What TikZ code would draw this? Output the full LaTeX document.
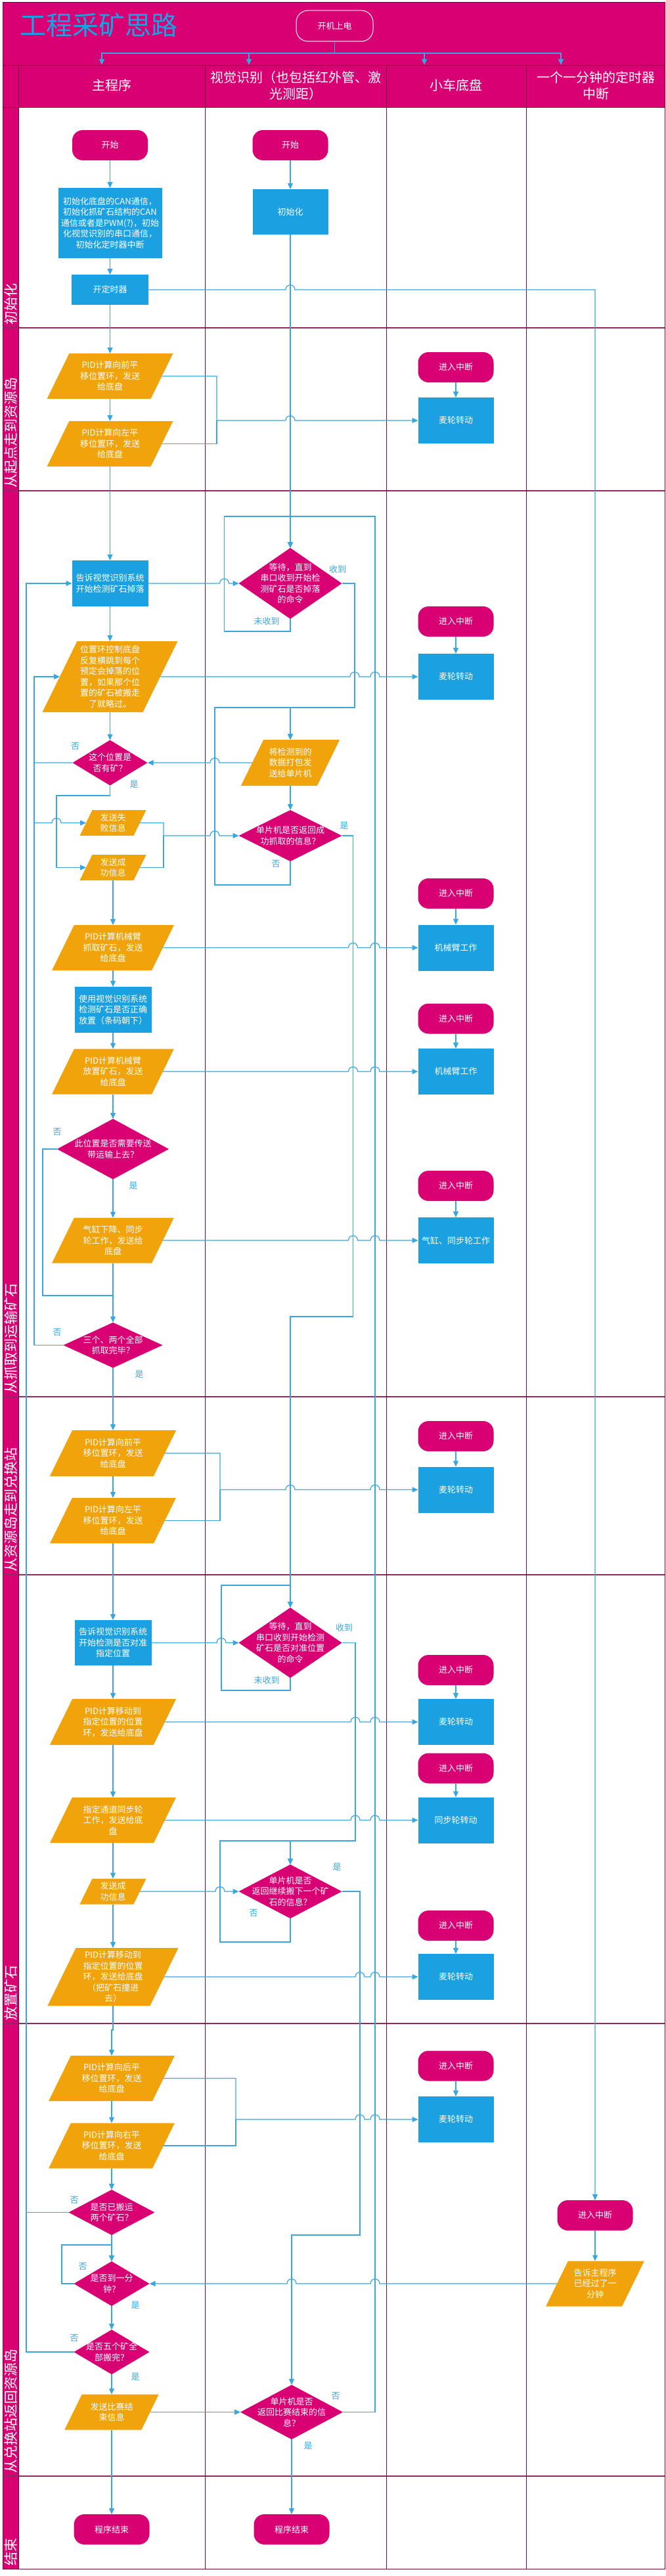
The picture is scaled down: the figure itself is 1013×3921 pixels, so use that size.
\documentclass[tikz,border=0pt]{standalone}
\usepackage{fontspec}
\setmainfont{Noto Sans CJK SC}
\usetikzlibrary{arrows.meta}
\definecolor{mag}{HTML}{D80073}
\definecolor{cy}{HTML}{1BA1E2}
\definecolor{org}{HTML}{F0A30A}
\definecolor{ln}{HTML}{3AA6E0}
\definecolor{gridc}{HTML}{6E0A41}
\definecolor{bandc}{HTML}{8E2A60}
\newcommand\hopr[2]{-- ({#1-7},#2) .. controls ({#1-7},{#2-9.5}) and ({#1+7},{#2-9.5}) .. ({#1+7},#2)}
\newcommand\hopl[2]{-- ({#1+7},#2) .. controls ({#1+7},{#2-9.5}) and ({#1-7},{#2-9.5}) .. ({#1-7},#2)}
\newcommand\mkpara[6]{%
  \fill[org] ({#2-#4/2+0.245*#5},{#3-#5/2}) -- ({#2+#4/2+0.245*#5},{#3-#5/2}) -- ({#2+#4/2-0.245*#5},{#3+#5/2}) -- ({#2-#4/2-0.245*#5},{#3+#5/2}) -- cycle;
  \node[shp,minimum width=#4pt,minimum height=#5pt] (#1) at (#2,#3) {#6};}
\newcommand\mkdia[6]{%
  \fill[mag] ({#2-#4/2},#3) -- (#2,{#3-#5/2}) -- ({#2+#4/2},#3) -- (#2,{#3+#5/2}) -- cycle;
  \node[shp,minimum width=#4pt,minimum height=#5pt] (#1) at (#2,#3) {#6};}
\newcommand\mkproc[6]{\node[shp,procbox,minimum width=#4pt,minimum height=#5pt] (#1) at (#2,#3) {#6};}
\newcommand\mkterm[6]{\node[shp,termbox,minimum width=#4pt,minimum height=#5pt] (#1) at (#2,#3) {#6};}
\begin{document}
\begin{tikzpicture}[x=1pt,y=-1pt,
  shp/.style={inner sep=0pt,outer sep=0pt,text=white,align=center,font=\fontsize{13}{16.5}\selectfont},
  procbox/.style={fill=cy},
  termbox/.style={fill=mag,rounded corners=16pt},
  conn/.style={draw=ln,line width=1.2pt},
  arr/.style={conn,-{Triangle[length=9pt,width=8pt]}},
  yn/.style={text=ln,font=\fontsize{13}{15}\selectfont,inner sep=0pt},
  hdr/.style={text=white,align=center,font=\fontsize{20}{25}\selectfont},
  lanelbl/.style={text=white,rotate=90,anchor=west,font=\fontsize{21}{21}\selectfont,inner sep=0pt},
  gridline/.style={draw=gridc,line width=1pt},
  bandline/.style={draw=bandc,line width=1.5pt}]
\useasboundingbox (0,0) rectangle (1013,3921);
\fill[white] (0,0) rectangle (1013,3921);
% frame
\fill[mag] (4.5,4) rectangle (1012,163);
\fill[mag] (4.5,163) rectangle (28.5,3910);
\foreach \yy in {499,747,2126,2397,3080,3769} {\draw[bandline] (4.5,\yy) -- (1012,\yy);}
\draw[gridline] (4.5,99) -- (1012,99);
\draw[gridline] (4.5,163) -- (1012,163);
\foreach \xx in {28.5,312,588,801} {\draw[gridline] (\xx,99) -- (\xx,3910);}
\draw[gridline] (4.5,4) rectangle (1012,3910);
% title and header
\node[anchor=west,text=cy,font=\fontsize{40}{40}\selectfont,inner sep=0pt] (title) at (30,38.5) {工程采矿思路};
\node[shp,termbox,draw=white,line width=1pt,rounded corners=18pt,minimum width=117pt,minimum height=47pt] (power) at (509.5,39.5) {开机上电};
\node[hdr] (hd1) at (170,130) {主程序};
\node[hdr] (hd2) at (450,130.5) {视觉识别（也包括红外管、激\\光测距）};
\node[hdr] (hd3) at (694,130) {小车底盘};
\node[hdr] (hd4) at (907,130.5) {一个一分钟的定时器\\中断};
\coordinate (fan) at (509.5,81);
\coordinate (h1) at (155,99);
\coordinate (h2) at (379,99);
\coordinate (h3) at (646,99);
\coordinate (h4) at (854,99);
\draw[conn] (power.south) -- (fan);
\draw[arr] (fan) -| (h1);
\draw[arr] (fan) -| (h2);
\draw[arr] (fan) -| (h3);
\draw[arr] (fan) -| (h4);
% lane labels
\node[lanelbl] (b1) at (16.5,495) {初始化};
\node[lanelbl] (b2) at (16.5,743) {从起点走到资源岛};
\node[lanelbl] (b3) at (16.5,2122) {从抓取到运输矿石};
\node[lanelbl] (b4) at (16.5,2393) {从资源岛走到兑换站};
\node[lanelbl] (b5) at (16.5,3076) {放置矿石};
\node[lanelbl] (b6) at (16.5,3765) {从兑换站返回资源岛};
\node[lanelbl] (b7) at (16.5,3906) {结束};
% main program
\mkterm{mstart}{167.5}{221}{115}{46}{开始}
\mkproc{minit}{167.5}{339.5}{158}{107}{初始化底盘的CAN通信，\\初始化抓矿石结构的CAN\\通信或者是PWM(?)，初始\\化视觉识别的串口通信，\\初始化定时器中断}
\mkproc{mtimer}{167.5}{441}{117}{46}{开定时器}
\mkpara{p1}{167.5}{572.5}{158}{69}{PID计算向前平\\移位置环，发送\\给底盘}
\mkpara{p2}{167.5}{675.5}{158}{69}{PID计算向左平\\移位置环，发送\\给底盘}
\mkproc{tell1}{167.5}{888}{116}{70}{告诉视觉识别系统\\开始检测矿石掉落}
\mkpara{pl}{167.5}{1030}{153}{108}{位置环控制底盘\\反复横跳到每个\\预定会掉落的位\\置，如果那个位\\置的矿石被搬走\\了就略过。}
\mkdia{d1}{167.5}{1161}{114}{69}{这个位置是\\否有矿？}
\mkpara{fail}{172}{1252.5}{82}{39}{发送失\\败信息}
\mkpara{succ}{172}{1320.5}{82}{39}{发送成\\功信息}
\mkpara{arm1}{172}{1442.5}{152}{69}{PID计算机械臂\\抓取矿石，发送\\给底盘}
\mkproc{check}{172}{1537}{117}{70}{使用视觉识别系统\\检测矿石是否正确\\放置（条码朝下）}
\mkpara{arm2}{172}{1631}{152}{69}{PID计算机械臂\\放置矿石，发送\\给底盘}
\mkdia{d2}{172}{1749}{170}{92}{此位置是否需要传送\\带运输上去？}
\mkpara{cyl}{172}{1888}{152}{69}{气缸下降、同步\\轮工作，发送给\\底盘}
\mkdia{d3}{172}{2047.5}{151}{69}{三个、两个全部\\抓取完毕？}
\mkpara{p3}{172}{2212}{158}{70}{PID计算向前平\\移位置环，发送\\给底盘}
\mkpara{p4}{172}{2314.5}{158}{69}{PID计算向左平\\移位置环，发送\\给底盘}
\mkproc{tell2}{172}{2500.5}{117}{69}{告诉视觉识别系统\\开始检测是否对准\\指定位置}
\mkpara{mv1}{172}{2621}{158}{70}{PID计算移动到\\指定位置的位置\\环，发送给底盘}
\mkpara{sync}{172}{2770.5}{158}{69}{指定通道同步轮\\工作，发送给底\\盘}
\mkpara{succ2}{172}{2879}{82}{39}{发送成\\功信息}
\mkpara{mv2}{172}{3009}{156}{88}{PID计算移动到\\指定位置的位置\\环，发送给底盘\\（把矿石撞进\\去）}
\mkpara{p5}{170}{3163.5}{158}{69}{PID计算向后平\\移位置环，发送\\给底盘}
\mkpara{p6}{170}{3266}{158}{69}{PID计算向右平\\移位置环，发送\\给底盘}
\mkdia{d4}{170}{3367.5}{131}{69}{是否已搬运\\两个矿石？}
\mkdia{d6}{170}{3476}{115}{68}{是否到一分\\钟？}
\mkdia{d5}{170}{3580}{115}{68}{是否五个矿全\\部搬完？}
\mkpara{endmsg}{170}{3671.5}{117}{54}{发送比赛结\\束信息}
\mkterm{mend}{170}{3850}{115}{46}{程序结束}
% vision
\mkterm{vstart}{442}{221}{115}{46}{开始}
\mkproc{vinit}{442}{322.5}{115}{69}{初始化}
\mkdia{w1}{442}{888}{157}{108}{等待，直到\\串口收到开始检\\测矿石是否掉落\\的命令}
\mkpara{pack}{442}{1161}{116}{70}{将检测到的\\数据打包发\\送给单片机}
\mkdia{m1}{442}{1272}{157}{78}{单片机是否返回成\\功抓取的信息？}
\mkdia{w2}{442}{2500.5}{157}{107}{等待，直到\\串口收到开始检测\\矿石是否对准位置\\的命令}
\mkdia{m2}{442}{2879}{157}{82}{单片机是否\\返回继续搬下一个矿\\石的信息？}
\mkdia{wend}{444}{3671.5}{156}{83}{单片机是否\\返回比赛结束的信\\息？}
\mkterm{vend}{444}{3850}{115}{46}{程序结束}
% chassis
\foreach \n/\yi/\yb/\lab in {1/559/640/麦轮转动,2/946/1030/麦轮转动,3/1360/1442.5/机械臂工作,4/1550.5/1631/机械臂工作,5/1805/1888/气缸、同步轮工作,6/2186/2267.5/麦轮转动,7/2542/2621/麦轮转动,8/2691.5/2770.5/同步轮转动,9/2931/3009/麦轮转动,10/3144.5/3226/麦轮转动}{
  \mkterm{int\n}{694}{\yi}{115}{46}{进入中断}
  \mkproc{cb\n}{694}{\yb}{115}{70}{\lab}
  \draw[arr] (int\n.south) -- (cb\n.north);
}
% timer
\mkterm{tint}{906}{3372}{115}{46}{进入中断}
\mkpara{tpara}{906}{3476}{116}{69}{告诉主程序\\已经过了一\\分钟}
% connectors
\draw[arr] (mstart.south) -- (minit.north);
\draw[arr] (minit.south) -- (mtimer.north);
\draw[arr] (mtimer.south) -- (p1.north);
\draw[arr] (mtimer.east) \hopr{442}{441} -- (906,441) -- (tint.north);
\draw[arr] (tint.south) -- (tpara.north);
\draw[arr] (vstart.south) -- (vinit.north);
\draw[arr] (vinit.south) -- (w1.north);
\draw[arr] (p1.south) -- (p2.north);
\draw[arr] (p1.east) -- (330,572.5) -- (330,640) \hopr{442}{640} -- (cb1.west);
\draw[conn] (p2.east) -- (330,675.5) -- (330,640);
\draw[arr] (p2.south) -- (tell1.north);
\draw[arr] (tell1.east) \hopr{341.5}{888} -- (w1.west);
\draw[arr] (w1.south) -- (442,961) -- (341.5,961) -- (341.5,786) -- (442,786) -- (w1.north);
\draw[arr] (wend.east) -- (571,3671.5) -- (571,786) -- (442,786) -- (w1.north);
\draw[arr] (w1.east) -- (540,888) -- (540,1077) -- (442,1077) -- (pack.north);
\draw[arr] (m1.south) -- (442,1347) -- (327,1347) -- (327,1077) -- (442,1077) -- (pack.north);
\draw[arr] (pack.south) -- (m1.north);
\draw[arr] (pack.west) \hopl{327}{1161} -- (d1.east);
\draw[arr] (tell1.south) -- (pl.north);
\draw[arr] (pl.east) \hopr{540}{1030} \hopr{571}{1030} -- (cb2.west);
\draw[arr] (pl.south) -- (d1.north);
\draw[arr] (d1.west) -- (52,1161) -- (52,1252.5) \hopr{86}{1252.5} -- (fail.west);
\draw[arr] (d1.south) -- (167.5,1211) -- (86,1211) -- (86,1320.5) -- (succ.west);
\draw[arr] (fail.east) -- (249,1252.5) -- (249,1272) \hopr{327}{1272} -- (m1.west);
\draw[conn] (succ.east) -- (249,1320.5) -- (249,1272);
\draw[arr] (m1.east) -- (537.5,1272) -- (537.5,2004) -- (442,2004) -- (w2.north);
\draw[arr] (succ.south) -- (arm1.north);
\draw[arr] (arm1.east) \hopr{537.5}{1442.5} \hopr{571}{1442.5} -- (cb3.west);
\draw[arr] (arm1.south) -- (check.north);
\draw[arr] (check.south) -- (arm2.north);
\draw[arr] (arm2.east) \hopr{537.5}{1631} \hopr{571}{1631} -- (cb4.west);
\draw[arr] (arm2.south) -- (d2.north);
\draw[conn] (d2.west) -- (65,1749) -- (65,1972) -- (172,1972);
\draw[arr] (d2.south) -- (cyl.north);
\draw[arr] (cyl.east) \hopr{537.5}{1888} \hopr{571}{1888} -- (cb5.west);
\draw[arr] (cyl.south) -- (d3.north);
\draw[arr] (d3.west) -- (52,2047.5) -- (52,1030) -- (pl.west);
\draw[arr] (d3.south) -- (p3.north);
\draw[arr] (p3.south) -- (p4.north);
\draw[arr] (p3.east) -- (335,2212) -- (335,2267.5) \hopr{442}{2267.5} \hopr{571}{2267.5} -- (cb6.west);
\draw[conn] (p4.east) -- (335,2314.5) -- (335,2267.5);
\draw[arr] (p4.south) -- (tell2.north);
\draw[arr] (tell2.east) \hopr{337}{2500.5} -- (w2.west);
\draw[arr] (w2.south) -- (442,2573) -- (337,2573) -- (337,2413) -- (442,2413) -- (w2.north);
\draw[arr] (w2.east) -- (541,2500.5) -- (541,2802) -- (442,2802) -- (m2.north);
\draw[arr] (m2.south) -- (442,2956) -- (335,2956) -- (335,2802) -- (442,2802) -- (m2.north);
\draw[arr] (tell2.south) -- (mv1.north);
\draw[arr] (mv1.east) \hopr{541}{2621} \hopr{571}{2621} -- (cb7.west);
\draw[arr] (mv1.south) -- (sync.north);
\draw[arr] (sync.east) \hopr{541}{2770.5} \hopr{571}{2770.5} -- (cb8.west);
\draw[arr] (sync.south) -- (succ2.north);
\draw[arr] (succ2.east) \hopr{335}{2879} -- (m2.west);
\draw[arr] (succ2.south) -- (mv2.north);
\draw[arr] (mv2.east) \hopr{548}{3009} \hopr{571}{3009} -- (cb9.west);
\draw[arr] (m2.east) -- (548,2879) -- (548,3402) -- (444,3402) -- (wend.north);
\draw[arr] (mv2.south) -- (172,3090) -- (170,3090) -- (p5.north);
\draw[arr] (p5.south) -- (p6.north);
\draw[arr] (p5.east) -- (359,3163.5) -- (359,3226) \hopr{548}{3226} \hopr{571}{3226} -- (cb10.west);
\draw[conn] (p6.east) -- (359,3266) -- (359,3226);
\draw[arr] (p6.south) -- (d4.north);
\draw[conn] (d4.west) -- (40,3367.5);
\draw[arr] (d5.west) -- (40,3580) -- (40,888) -- (tell1.west);
\draw[arr] (d4.south) -- (d6.north);
\draw[arr] (d6.west) -- (94,3476) -- (94,3417) -- (170,3417) -- (d6.north);
\draw[arr] (tpara.west) \hopl{571}{3476} \hopl{444}{3476} -- (d6.east);
\draw[arr] (d6.south) -- (d5.north);
\draw[arr] (d5.south) -- (endmsg.north);
\draw[arr] (endmsg.east) -- (wend.west);
\draw[arr] (endmsg.south) -- (mend.north);
\draw[arr] (wend.south) -- (vend.north);
% yes / no labels
\node[yn] (l1) at (514,867) {收到};
\node[yn] (l2) at (406,946) {未收到};
\node[yn] (l3) at (114.5,1136) {否};
\node[yn] (l4) at (204,1194) {是};
\node[yn] (l5) at (524,1257) {是};
\node[yn] (l6) at (420,1315) {否};
\node[yn] (l7) at (87,1723) {否};
\node[yn] (l8) at (203,1805) {是};
\node[yn] (l9) at (87,2028) {否};
\node[yn] (l10) at (212,2092) {是};
\node[yn] (l11) at (524,2478) {收到};
\node[yn] (l12) at (406,2558) {未收到};
\node[yn] (l13) at (513,2842) {是};
\node[yn] (l14) at (386,2912) {否};
\node[yn] (l15) at (113,3349) {否};
\node[yn] (l16) at (126,3450) {否};
\node[yn] (l17) at (206,3509) {是};
\node[yn] (l18) at (113,3559) {否};
\node[yn] (l19) at (206,3618) {是};
\node[yn] (l20) at (511,3647) {否};
\node[yn] (l21) at (469,3723) {是};
\end{tikzpicture}
\end{document}
